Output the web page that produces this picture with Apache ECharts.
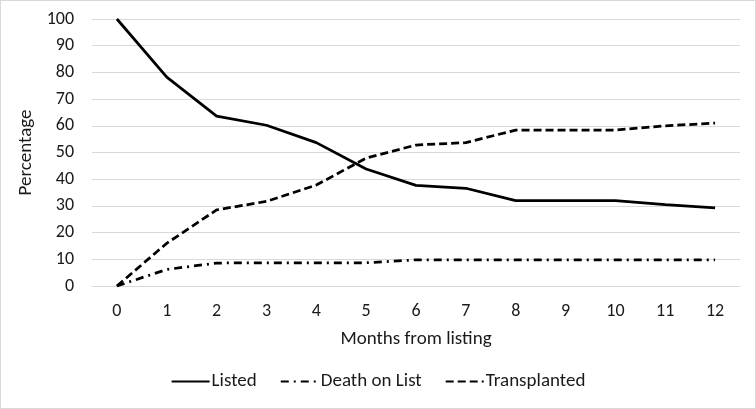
<!DOCTYPE html>
<html>
<head>
<meta charset="utf-8">
<script src="https://cdn.jsdelivr.net/npm/echarts@6/dist/echarts.min.js"></script>
<style>
html,body{margin:0;padding:0;background:#fff;}
#c{width:754px;height:407px;border:1px solid #d9d9d9;}
</style>
</head>
<body>
<div id="c"></div>
<script>
var months = ['0','1','2','3','4','5','6','7','8','9','10','11','12'];
var listed = [100, 78.2, 63.6, 60.2, 53.7, 43.8, 37.7, 36.6, 32, 32, 32, 30.5, 29.3];
var deathOnList = [0, 6.2, 8.6, 8.7, 8.7, 8.7, 9.8, 9.8, 9.8, 9.8, 9.8, 9.8, 9.8];
var transplanted = [0, 16, 28.5, 31.7, 37.8, 47.9, 52.8, 53.7, 58.4, 58.4, 58.4, 60, 61];

var font = 'Carlito, Lato, "Open Sans", sans-serif';
var chart = echarts.init(document.getElementById('c'));
chart.setOption({
  animation: false,
  textStyle: {fontFamily: font},
  grid: {left: 91, right: 15, top: 18, bottom: 122},
  xAxis: {
    type: 'category',
    data: months,
    boundaryGap: true,
    name: 'Months from listing',
    nameLocation: 'middle',
    nameGap: 44,
    nameTextStyle: {fontSize: 19, color: '#1a1a1a', fontFamily: font},
    axisLine: {show: true, lineStyle: {color: '#d9d9d9', width: 1}},
    axisTick: {show: false},
    axisLabel: {fontSize: 18, color: '#1a1a1a', margin: 16, fontFamily: font}
  },
  yAxis: {
    type: 'value',
    min: 0, max: 100, interval: 10,
    name: 'Percentage',
    nameLocation: 'middle',
    nameGap: 47,
    nameTextStyle: {fontSize: 19, color: '#1a1a1a', fontFamily: font},
    axisLine: {show: false},
    axisTick: {show: false},
    axisLabel: {fontSize: 18, color: '#1a1a1a', margin: 18, fontFamily: font},
    splitLine: {lineStyle: {color: '#d9d9d9', width: 1}}
  },
  legend: {
    bottom: 12,
    left: 'center',
    itemGap: 23,
    itemWidth: 38,
    itemHeight: 10,
    itemStyle: {opacity: 0},
    textStyle: {fontSize: 19, color: '#1a1a1a', fontFamily: font, padding: [0,0,0,-3]},
    data: ['Listed', 'Death on List', 'Transplanted']
  },
  series: [
    {name: 'Listed', type: 'line', data: listed, symbol: 'none',
     lineStyle: {color: '#000', width: 2.75, type: 'solid'}, itemStyle: {color: '#000'}},
    {name: 'Death on List', type: 'line', data: deathOnList, symbol: 'none',
     lineStyle: {color: '#000', width: 2.75, type: [8, 5, 2, 5]}, itemStyle: {color: '#000'}},
    {name: 'Transplanted', type: 'line', data: transplanted, symbol: 'none',
     lineStyle: {color: '#000', width: 2.75, type: [8, 4]}, itemStyle: {color: '#000'}}
  ]
});
</script>
</body>
</html>
